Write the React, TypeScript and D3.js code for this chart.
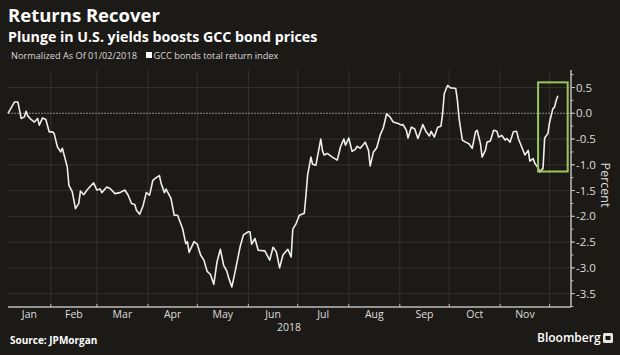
import React from "react";
import * as d3 from "d3";

const dates: string[] = [
  "2018-01-06","2018-01-10","2018-01-12","2018-01-14","2018-01-16","2018-01-17","2018-01-18","2018-01-20","2018-01-22","2018-01-24",
  "2018-01-25","2018-01-27","2018-01-29","2018-01-31","2018-02-02","2018-02-03","2018-02-05","2018-02-07","2018-02-08","2018-02-11",
  "2018-02-12","2018-02-14","2018-02-16","2018-02-18","2018-02-19","2018-02-21","2018-02-23","2018-02-27","2018-03-01","2018-03-03",
  "2018-03-04","2018-03-07","2018-03-09","2018-03-12","2018-03-15","2018-03-18","2018-03-20","2018-03-22","2018-03-24","2018-03-25",
  "2018-03-27","2018-03-29","2018-03-31","2018-04-02","2018-04-04","2018-04-06","2018-04-08","2018-04-09","2018-04-11","2018-04-12",
  "2018-04-15","2018-04-17","2018-04-19","2018-04-22","2018-04-24","2018-04-25","2018-04-26","2018-04-29","2018-05-01","2018-05-03",
  "2018-05-05","2018-05-07","2018-05-09","2018-05-11","2018-05-13","2018-05-15","2018-05-17","2018-05-19","2018-05-20","2018-05-22",
  "2018-05-24","2018-05-27","2018-05-29","2018-06-01","2018-06-02","2018-06-03","2018-06-05","2018-06-07","2018-06-11","2018-06-14",
  "2018-06-16","2018-06-18","2018-06-20","2018-06-22","2018-06-25","2018-06-27","2018-06-28","2018-06-30","2018-07-02","2018-07-05",
  "2018-07-06","2018-07-07","2018-07-09","2018-07-10","2018-07-12","2018-07-15","2018-07-16","2018-07-17","2018-07-19","2018-07-22",
  "2018-07-25","2018-07-27","2018-07-29","2018-07-30","2018-08-01","2018-08-03","2018-08-05","2018-08-06","2018-08-08","2018-08-11",
  "2018-08-13","2018-08-14","2018-08-16","2018-08-18","2018-08-20","2018-08-22","2018-08-24","2018-08-26","2018-08-28","2018-08-31",
  "2018-09-02","2018-09-03","2018-09-05","2018-09-06","2018-09-08","2018-09-10","2018-09-12","2018-09-15","2018-09-17","2018-09-19",
  "2018-09-20","2018-09-22","2018-09-24","2018-09-26","2018-09-27","2018-09-28","2018-09-30","2018-10-02","2018-10-03","2018-10-05",
  "2018-10-06","2018-10-07","2018-10-09","2018-10-11","2018-10-13","2018-10-15","2018-10-17","2018-10-18","2018-10-20","2018-10-21",
  "2018-10-23","2018-10-24","2018-10-26","2018-10-28","2018-10-30","2018-10-31","2018-11-02","2018-11-04","2018-11-05","2018-11-07",
  "2018-11-09","2018-11-11","2018-11-12","2018-11-14","2018-11-16","2018-11-18","2018-11-19","2018-11-21","2018-11-22","2018-11-24",
  "2018-11-25","2018-11-27","2018-11-28","2018-11-30","2018-12-01","2018-12-03","2018-12-04","2018-12-05","2018-12-06",
];

const values: number[] = [
  0.00,0.22,0.22,-0.10,-0.07,0.04,-0.05,-0.12,-0.17,-0.10,
  -0.23,-0.09,-0.12,-0.36,-0.36,-0.39,-0.65,-0.75,-0.68,-1.04,
  -1.40,-1.52,-1.85,-1.75,-1.51,-1.58,-1.49,-1.35,-1.49,-1.47,
  -1.54,-1.43,-1.46,-1.56,-1.54,-1.49,-1.59,-1.75,-1.77,-1.88,
  -1.96,-1.80,-1.54,-1.59,-1.30,-1.25,-1.21,-1.36,-1.54,-1.47,
  -1.65,-1.98,-1.98,-2.23,-2.53,-2.49,-2.70,-2.49,-2.54,-2.75,
  -2.85,-3.07,-3.13,-3.32,-2.88,-2.64,-2.95,-3.07,-3.19,-3.37,
  -3.07,-2.59,-2.36,-2.30,-2.30,-2.54,-2.43,-2.66,-2.67,-2.85,
  -2.60,-2.69,-3.00,-2.75,-2.64,-2.79,-2.25,-2.14,-1.98,-1.94,
  -1.59,-1.20,-0.85,-0.99,-1.01,-0.50,-0.72,-0.81,-0.78,-0.85,
  -0.91,-0.65,-0.50,-0.62,-0.48,-0.74,-0.70,-0.64,-0.68,-0.56,
  -0.72,-1.02,-0.75,-0.67,-0.43,-0.28,-0.01,-0.07,-0.17,-0.20,
  -0.23,-0.22,-0.33,-0.48,-0.27,-0.30,-0.49,-0.22,-0.36,-0.44,
  -0.35,-0.46,-0.27,-0.25,-0.01,0.38,0.54,0.49,0.49,0.48,
  0.25,-0.10,-0.52,-0.56,-0.59,-0.68,-0.36,-0.33,-0.59,-0.85,
  -0.72,-0.56,-0.54,-0.33,-0.35,-0.46,-0.43,-0.52,-0.49,-0.56,
  -0.36,-0.35,-0.49,-0.65,-0.81,-0.72,-0.93,-0.88,-0.97,-1.06,
  -1.14,-1.07,-0.48,-0.39,-0.17,0.09,0.12,0.25,0.34,
];

const monthLabels: string[] = ["Jan","Feb","Mar","Apr","May","Jun","Jul","Aug","Sep","Oct","Nov"];
const yTicks: number[] = [0.5, 0.0, -0.5, -1.0, -1.5, -2.0, -2.5, -3.0, -3.5];
const xDomain: string[] = ["2018-01-06", "2018-12-14"];
const yDomain: number[] = [-3.76, 0.84];
const highlightDates: string[] = ["2018-11-24", "2018-12-12"];
const highlightValues: number[] = [-1.13, 0.6];

const title = "Returns Recover";
const subtitle = "Plunge in U.S. yields boosts GCC bond prices";
const note = "Normalized As Of 01/02/2018";
const seriesName = "GCC bonds total return index";
const source = "Source: JPMorgan";

const W = 620, H = 355;
const L = 8, R = 571, T = 70, B = 307;
const BG = "#1c1a17";
const FONT = "'Open Sans', 'DejaVu Sans', sans-serif";

export default function App() {
  const parse = d3.utcParse("%Y-%m-%d");
  const x = d3.scaleUtc().domain(xDomain.map((s) => parse(s) as Date)).range([L, R]);
  const y = d3.scaleLinear().domain(yDomain).range([B, T]);
  const data = dates.map((d, i) => ({ d: parse(d) as Date, v: values[i] }));
  const line = d3.line<{ d: Date; v: number }>().x((p) => x(p.d)).y((p) => y(p.v));

  const monthStarts = d3.utcMonth.range(new Date(Date.UTC(2018, 1, 1)), new Date(Date.UTC(2018, 11, 2)));
  const [d0, d1] = x.domain();
  const labelPos = monthLabels.map((m, i) => {
    const s = new Date(Math.max(+d0, Date.UTC(2018, i, 1)));
    const e = new Date(Math.min(+d1, Date.UTC(2018, i + 1, 1)));
    return { m, x: (x(s) + x(e)) / 2 };
  });
  const minorTicks = d3.range(-3.75, 0.8, 0.25);
  const hx0 = x(parse(highlightDates[0]) as Date);
  const hx1 = x(parse(highlightDates[1]) as Date);
  const hy0 = y(highlightValues[1]);
  const hy1 = y(highlightValues[0]);

  return (
    <svg width={W} height={H} style={{ position: "absolute", left: 0, top: 0, display: "block" }}>
      <rect width={W} height={H} fill={BG} />
      <text x={8} y={21.5} fill="#ffffff" fontFamily={FONT} fontWeight={700} fontSize={18.5}>{title}</text>
      <text x={8} y={42} fill="#ffffff" fontFamily={FONT} fontWeight={700} fontSize={14.2}>{subtitle}</text>
      <text x={11} y={58.5} fill="#d8d8d8" fontFamily={FONT} fontSize={9.2}>{note}</text>
      <rect x={146} y={52} width={6} height={6} fill="#ffffff" />
      <text x={153.5} y={58.5} fill="#d8d8d8" fontFamily={FONT} fontSize={9.2}>{seriesName}</text>

      {monthStarts.map((m, i) => (
        <line key={"vg" + i} x1={x(m)} x2={x(m)} y1={T} y2={B} stroke="#34312d" strokeWidth={1} />
      ))}
      {yTicks.filter((t) => t !== 0).map((t) => (
        <line key={"hg" + t} x1={L} x2={R} y1={y(t)} y2={y(t)} stroke="#34312d" strokeWidth={1} />
      ))}
      <line x1={L} x2={R} y1={y(0)} y2={y(0)} stroke="#8a8782" strokeWidth={1} strokeDasharray="2,1" />

      <path d={line(data) || ""} fill="none" stroke="#eeeeee" strokeWidth={1.6} strokeLinejoin="round" />

      <rect x={hx0} y={hy0} width={hx1 - hx0} height={hy1 - hy0} fill="none" stroke="#9cc65a" strokeWidth={2} />

      <line x1={L} x2={R} y1={B} y2={B} stroke="#bdbdbd" strokeWidth={1.5} />
      <line x1={R} x2={R} y1={T} y2={B} stroke="#bdbdbd" strokeWidth={1.5} />
      {monthStarts.map((m, i) => (
        <line key={"xt" + i} x1={x(m)} x2={x(m)} y1={B} y2={B - 3} stroke="#bdbdbd" strokeWidth={1} />
      ))}
      {minorTicks.map((t, i) => (
        <line key={"mt" + i} x1={R} x2={R + 2.5} y1={y(t)} y2={y(t)} stroke="#bdbdbd" strokeWidth={1} />
      ))}
      {yTicks.map((t) => (
        <g key={"yt" + t}>
          <line x1={R} x2={R + 4} y1={y(t)} y2={y(t)} stroke="#bdbdbd" strokeWidth={1} />
          <text x={R + 5} y={y(t) + 4} fill="#dcdcdc" fontFamily={FONT} fontSize={11.5}>
            {d3.format(".1f")(t).replace("−", "-")}
          </text>
        </g>
      ))}
      <text transform={`translate(601,185) rotate(90)`} textAnchor="middle" fill="#dcdcdc" fontFamily={FONT} fontSize={12.5}>Percent</text>

      {labelPos.map((p) => (
        <text key={p.m} x={p.x} y={318} textAnchor="middle" fill="#dcdcdc" fontFamily={FONT} fontSize={10.5}>{p.m}</text>
      ))}
      <text x={289} y={331} textAnchor="middle" fill="#dcdcdc" fontFamily={FONT} fontSize={10.5}>2018</text>

      <text x={10} y={344} fill="#ffffff" fontFamily={FONT} fontWeight={700} fontSize={10}>{source}</text>
      <text x={537} y={342} fill="#ffffff" fontFamily={FONT} fontWeight={600} fontSize={12}>Bloomberg</text>
      <rect x={603} y={333} width={10} height={10} rx={1.5} fill="#e6e6e6" />
      <rect x={605.5} y={336} width={5} height={4} fill="#1c1a17" />
    </svg>
  );
}
